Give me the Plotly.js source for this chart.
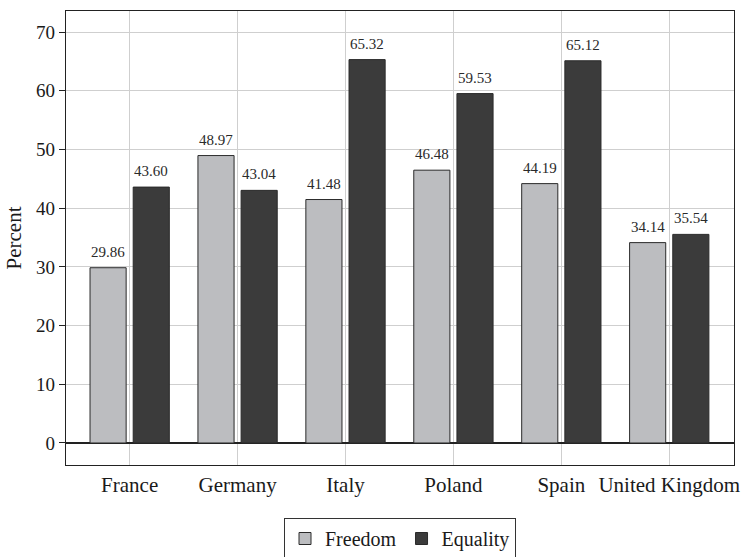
<!DOCTYPE html>
<html>
<head>
<meta charset="utf-8">
<script src="https://cdn.plot.ly/plotly-3.0.1.min.js"></script>
<style>html,body{margin:0;padding:0;background:#fff;}#chart{width:751px;height:557px;}</style>
</head>
<body>
<div id="chart"></div>
<script>
const countries = ["France", "Germany", "Italy", "Poland", "Spain", "United Kingdom"];
const freedom = [29.86, 48.97, 41.48, 46.48, 44.19, 34.14];
const equality = [43.60, 43.04, 65.32, 59.53, 65.12, 35.54];
const yTicks = [0, 10, 20, 30, 40, 50, 60, 70];

const font = "'Liberation Serif', 'DejaVu Serif', serif";

function bar(name, vals, color) {
  return {
    type: 'bar', name: name, x: countries, y: vals,
    marker: {color: color, line: {color: '#2a2a2a', width: 1}},
    hoverinfo: 'none'
  };
}

const data = [bar('Freedom', freedom, '#bcbdc0'), bar('Equality', equality, '#3b3b3b')];

function labels(vals, shift) {
  return vals.map((v, i) => ({
    x: countries[i], y: v, xref: 'x', yref: 'y',
    text: v.toFixed(2), showarrow: false,
    xshift: shift, yshift: 6, yanchor: 'bottom',
    font: {family: font, size: 15, color: '#2a2a2a'}
  }));
}

const layout = {
  width: 751, height: 557,
  margin: {l: 66, r: 17, t: 11, b: 92},
  paper_bgcolor: '#fff', plot_bgcolor: '#fff',
  font: {family: font, size: 19, color: '#1a1a1a'},
  barmode: 'group', bargap: 0.2, bargroupgap: 0.163,
  showlegend: true,
  annotations: labels(freedom, -21.5).concat(labels(equality, 21.5)),
  legend: {orientation: 'h', x: 0.5, xanchor: 'center', xref: 'paper',
           y: 0.07, yref: 'container', yanchor: 'top',
           bordercolor: '#333', borderwidth: 1, font: {family: font, size: 20, color: '#1a1a1a'},
           traceorder: 'normal'},
  xaxis: {
    type: 'category', range: [-0.59, 5.6],
    showgrid: true, gridcolor: '#cfcfcf', gridwidth: 1,
    showline: true, linecolor: '#222', linewidth: 1.3, mirror: true,
    ticks: '', tickfont: {family: font, size: 21, color: '#1a1a1a'}
  },
  yaxis: {
    range: [-3.75, 73.6], tickvals: yTicks, ticktext: yTicks.map(String),
    showgrid: true, gridcolor: '#cfcfcf', gridwidth: 1,
    zeroline: true, zerolinecolor: '#222', zerolinewidth: 1.3,
    showline: true, linecolor: '#222', linewidth: 1.3, mirror: true,
    ticks: 'outside', ticklen: 6, tickcolor: '#222',
    tickfont: {family: font, size: 19, color: '#1a1a1a'},
    title: {text: 'Percent', font: {family: font, size: 21, color: '#1a1a1a'}, standoff: 8}
  }
};

Plotly.newPlot('chart', data, layout, {displayModeBar: false, staticPlot: true});
</script>
</body>
</html>
